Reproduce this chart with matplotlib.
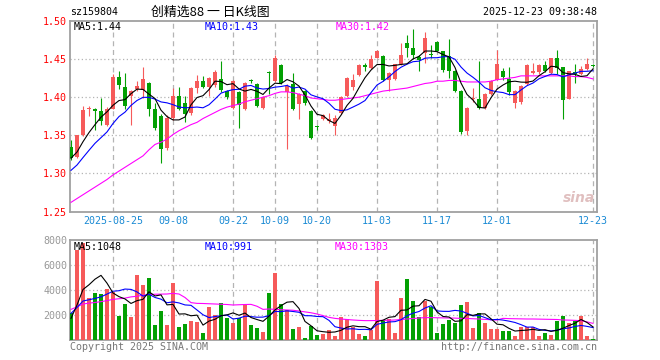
import numpy as np
import pandas as pd
import matplotlib
matplotlib.use("Agg")
import matplotlib.pyplot as plt

# ---------------- data ----------------
opens = [1.335, 1.321, 1.350, 1.384, 1.385, 1.382, 1.363, 1.385, 1.426, 1.414,
         1.401, 1.411, 1.410, 1.419, 1.385, 1.375, 1.333, 1.373, 1.402, 1.392,
         1.379, 1.412, 1.421, 1.414, 1.416, 1.424, 1.408, 1.386, 1.407, 1.384,
         1.422, 1.417, 1.386, 1.433, 1.421, 1.442, 1.407, 1.417, 1.391, 1.408,
         1.382, 1.362, 1.372, 1.369, 1.362, 1.379, 1.401, 1.414, 1.429, 1.442,
         1.438, 1.452, 1.454, 1.423, 1.424, 1.443, 1.471, 1.465, 1.453, 1.458,
         1.457, 1.473, 1.460, 1.454, 1.434, 1.408, 1.356, 1.397, 1.397, 1.386,
         1.404, 1.423, 1.434, 1.424, 1.392, 1.394, 1.417, 1.432, 1.433, 1.442,
         1.432, 1.451, 1.439, 1.398, 1.433, 1.430, 1.437, 1.442]
closes = [1.320, 1.350, 1.383, 1.385, 1.382, 1.369, 1.385, 1.426, 1.416, 1.388,
          1.408, 1.415, 1.424, 1.385, 1.359, 1.332, 1.373, 1.402, 1.385, 1.378,
          1.412, 1.421, 1.414, 1.425, 1.433, 1.410, 1.400, 1.421, 1.390, 1.419,
          1.421, 1.388, 1.400, 1.432, 1.451, 1.418, 1.415, 1.385, 1.404, 1.392,
          1.346, 1.361, 1.376, 1.372, 1.373, 1.400, 1.425, 1.422, 1.442, 1.439,
          1.450, 1.461, 1.423, 1.432, 1.443, 1.456, 1.465, 1.455, 1.449, 1.478,
          1.456, 1.461, 1.436, 1.434, 1.408, 1.354, 1.386, 1.399, 1.386, 1.404,
          1.421, 1.443, 1.426, 1.407, 1.408, 1.415, 1.442, 1.434, 1.442, 1.434,
          1.451, 1.438, 1.396, 1.434, 1.431, 1.437, 1.443, 1.441]
highs = [1.344, 1.351, 1.388, 1.388, 1.386, 1.399, 1.387, 1.431, 1.434, 1.432,
         1.410, 1.421, 1.440, 1.420, 1.392, 1.378, 1.377, 1.412, 1.414, 1.401,
         1.413, 1.429, 1.428, 1.427, 1.436, 1.447, 1.410, 1.422, 1.408, 1.420,
         1.424, 1.418, 1.401, 1.434, 1.455, 1.443, 1.417, 1.432, 1.405, 1.409,
         1.383, 1.364, 1.378, 1.379, 1.376, 1.402, 1.427, 1.430, 1.444, 1.445,
         1.455, 1.462, 1.456, 1.433, 1.444, 1.471, 1.482, 1.490, 1.456, 1.485,
         1.468, 1.474, 1.461, 1.477, 1.436, 1.409, 1.387, 1.412, 1.448, 1.405,
         1.422, 1.462, 1.438, 1.440, 1.409, 1.416, 1.443, 1.445, 1.443, 1.448,
         1.452, 1.462, 1.440, 1.435, 1.443, 1.441, 1.452, 1.444]
lows = [1.318, 1.320, 1.349, 1.375, 1.357, 1.363, 1.362, 1.384, 1.411, 1.384,
        1.363, 1.408, 1.399, 1.375, 1.357, 1.314, 1.331, 1.370, 1.383, 1.368,
        1.377, 1.406, 1.412, 1.401, 1.414, 1.407, 1.397, 1.385, 1.360, 1.383,
        1.419, 1.387, 1.384, 1.404, 1.420, 1.417, 1.332, 1.383, 1.372, 1.390,
        1.345, 1.357, 1.370, 1.366, 1.350, 1.378, 1.400, 1.410, 1.428, 1.434,
        1.437, 1.451, 1.421, 1.408, 1.423, 1.442, 1.453, 1.450, 1.434, 1.445,
        1.452, 1.460, 1.433, 1.425, 1.407, 1.352, 1.350, 1.394, 1.385, 1.385,
        1.403, 1.422, 1.423, 1.403, 1.386, 1.391, 1.416, 1.430, 1.431, 1.433,
        1.431, 1.430, 1.372, 1.397, 1.419, 1.429, 1.436, 1.439]
volumes = [2150, 7200, 7800, 3390, 3790, 3680, 4080, 3870, 1920, 2880,
           1870, 5200, 4400, 4930, 1200, 2320, 1200, 4590, 1070, 1280,
           1550, 1470, 590, 2670, 2000, 2990, 1790, 1390, 1730, 2880,
           1200, 990, 670, 3790, 5390, 2880, 2400, 880, 1070, 190,
           1150, 400, 510, 830, 320, 1810, 1650, 1070, 480, 320,
           800, 4720, 1600, 1650, 590, 3330, 4850, 3120, 1810, 3120,
           2610, 590, 1280, 1600, 1390, 2800, 3070, 990, 2190, 1390,
           850, 910, 750, 750, 320, 1070, 1070, 1070, 320, 590,
           400, 1500, 1900, 1400, 1500, 1900, 320, 110]
# closes / volumes before the visible window (estimated from the MA lines' start)
prior_closes = [1.280, 1.285, 1.290, 1.290, 1.295, 1.310, 1.315, 1.325, 1.330]
prior_volumes = [2500, 2600, 2400, 2700, 2450, 1850, 1600, 1500, 1550]
# MA30 lines (need history not shown)
ma30_price = [1.262, 1.267, 1.272, 1.277, 1.282, 1.287, 1.292, 1.298, 1.303, 1.308,
              1.313, 1.318, 1.323, 1.331, 1.338, 1.341, 1.345, 1.351, 1.356, 1.360,
              1.364, 1.367, 1.372, 1.376, 1.380, 1.384, 1.387, 1.389, 1.391, 1.394,
              1.396, 1.398, 1.400, 1.402, 1.405, 1.407, 1.407, 1.406, 1.404, 1.402,
              1.399, 1.398, 1.397, 1.396, 1.396, 1.397, 1.398, 1.399, 1.400, 1.402,
              1.404, 1.406, 1.408, 1.409, 1.410, 1.411, 1.412, 1.414, 1.416, 1.418,
              1.419, 1.421, 1.421, 1.422, 1.422, 1.421, 1.420, 1.420, 1.420, 1.420,
              1.421, 1.423, 1.424, 1.425, 1.426, 1.428, 1.428, 1.428, 1.428, 1.428,
              1.428, 1.428, 1.428, 1.428, 1.427, 1.427, 1.426, 1.424]
ma30_volume = [2450, 2650, 2880, 2950, 3000, 3070, 3150, 3250, 3300, 3350,
               3450, 3500, 3580, 3640, 3660, 3670, 3680, 3730, 3680, 3400,
               2990, 2930, 2920, 2900, 2880, 2860, 2840, 2800, 2820, 2840,
               2850, 2700, 2450, 2480, 2450, 2420, 2400, 2380, 2320, 2250,
               2180, 2080, 1950, 1810, 1730, 1680, 1640, 1600, 1570, 1550,
               1550, 1560, 1570, 1580, 1600, 1640, 1680, 1720, 1760, 1790,
               1790, 1780, 1770, 1760, 1750, 1730, 1720, 1700, 1680, 1650,
               1620, 1600, 1730, 1710, 1700, 1690, 1680, 1680, 1670, 1660,
               1650, 1640, 1600, 1590, 1570, 1550, 1450, 1330]
holidays = pd.date_range("2025-10-01", "2025-10-08")
dates = [d for d in pd.bdate_range("2025-08-14", "2025-12-23") if d not in holidays]
tick_dates = ["2025-08-25", "2025-09-08", "2025-09-22", "2025-10-09", "2025-10-20",
              "2025-11-03", "2025-11-17", "2025-12-01", "2025-12-23"]
tick_labels = ["2025-08-25", "09-08", "09-22", "10-09", "10-20",
               "11-03", "11-17", "12-01", "12-23"]
price_ticks = [1.25, 1.30, 1.35, 1.40, 1.45, 1.50]
vol_ticks = [2000, 4000, 6000, 8000]

# ---------------- styling ----------------
RED = "#f65a5a"
GREEN = "#03a003"
FRAME = "#a0a0a0"
GRID = "#b4b4b4"
TXT_BLUE = "#1a8ad4"
MONO = "DejaVu Sans Mono"
FS = 7.2

o = np.array(opens); c = np.array(closes); h = np.array(highs); l = np.array(lows)
v = np.array(volumes, dtype=float)
x = np.arange(len(c))
date_idx = {d.strftime("%Y-%m-%d"): i for i, d in enumerate(dates)}
tick_idx = [date_idx[d] for d in tick_dates]

def ma(series, prior, n):
    s = pd.Series(list(prior) + list(series))
    return s.rolling(n).mean().values[len(prior):]

ma5 = ma(c, prior_closes, 5)
ma10 = ma(c, prior_closes, 10)
vma5 = ma(v, prior_volumes, 5)
vma10 = ma(v, prior_volumes, 10)

up = c >= o
colors = np.where(up, RED, GREEN)

W, H = 660, 360
fig = plt.figure(figsize=(W / 100, H / 100), dpi=100)
fig.patch.set_facecolor("white")

def fx(px):
    return px / W

def fy(py):
    return 1 - py / H

L, R = 70, 597
ax = fig.add_axes([fx(L), fy(211.5), fx(R - L), (211.5 - 21) / H])
axv = fig.add_axes([fx(L), fy(340), fx(R - L), (340 - 240) / H])

xlim = (-1 / 6, (R - 71) / 6)
for a in (ax, axv):
    a.set_xlim(*xlim)
    for sp in a.spines.values():
        sp.set_color(FRAME)
        sp.set_linewidth(1.3)
    a.tick_params(length=0)
    for t in tick_idx:
        a.axvline(t, color=GRID, lw=0.9, ls=(0, (4, 3)), zorder=0.5)

# price panel
ax.set_ylim(1.25, 1.50)
for yv in price_ticks[1:-1]:
    ax.axhline(yv, color=GRID, lw=0.9, ls=(0, (1, 2)), zorder=0.5)
ax.vlines(x, l, h, colors=colors, lw=0.8, zorder=2)
body = np.maximum(np.abs(c - o), 0.0012)
ax.bar(x, body, bottom=np.minimum(o, c), width=0.78, color=colors, linewidth=0, zorder=3)
ax.plot(x, ma30_price, color="#ff00ff", lw=0.8, zorder=4)
ax.plot(x, ma10, color="#0000ff", lw=0.8, zorder=4)
ax.plot(x, ma5, color="black", lw=0.8, zorder=4)
ax.set_yticks(price_ticks)
ax.set_yticklabels([f"{t:.2f}" for t in price_ticks], color="red", fontsize=FS, family=MONO)
ax.tick_params(axis="y", pad=2)
ax.set_xticks(tick_idx)
ax.set_xticklabels(tick_labels, color=TXT_BLUE, fontsize=FS, family=MONO)
ax.tick_params(axis="x", pad=3)

# volume panel
axv.set_ylim(0, 8000)
for yv in vol_ticks[:-1]:
    axv.axhline(yv, color=GRID, lw=0.9, ls=(0, (1, 2)), zorder=0.5)
axv.bar(x, v, width=0.82, color=colors, linewidth=0, zorder=3)
axv.plot(x, ma30_volume, color="#ff00ff", lw=0.8, zorder=4)
axv.plot(x, vma10, color="#0000ff", lw=0.8, zorder=4)
axv.plot(x, vma5, color="black", lw=0.8, zorder=4)
axv.set_yticks(vol_ticks)
axv.set_yticklabels([str(t) for t in vol_ticks], color="#999999", fontsize=FS, family=MONO)
axv.tick_params(axis="y", pad=2)
axv.set_xticks([])

# header / legends
fig.text(fx(70), fy(12), "sz159804", fontsize=FS, family=MONO, va="center", ha="left")
fig.text(fx(151), fy(12), "创精选88 一 日K线图", fontsize=9.3,
         family=["Noto Sans CJK SC", "DejaVu Sans"], va="center", ha="left")
fig.text(fx(597), fy(12), "2025-12-23 09:38:48", fontsize=FS, family=MONO, va="center", ha="right")

fig.text(fx(74), fy(27.5), "MA5:1.44", fontsize=FS, family=MONO, va="center", color="black")
fig.text(fx(205), fy(27.5), "MA10:1.43", fontsize=FS, family=MONO, va="center", color="#0000ff")
fig.text(fx(336), fy(27.5), "MA30:1.42", fontsize=FS, family=MONO, va="center", color="#ff00ff")
fig.text(fx(74), fy(247), "MA5:1048", fontsize=FS, family=MONO, va="center", color="black")
fig.text(fx(205), fy(247), "MA10:991", fontsize=FS, family=MONO, va="center", color="#0000ff")
fig.text(fx(335), fy(247), "MA30:1303", fontsize=FS, family=MONO, va="center", color="#ff00ff")

fig.text(fx(70), fy(347), "Copyright 2025 SINA.COM", fontsize=FS, family=MONO,
         va="center", ha="left", color="#777777")
fig.text(fx(597), fy(347), "http://finance.sina.com.cn", fontsize=FS, family=MONO,
         va="center", ha="right", color="#777777")
fig.text(fx(579), fy(198), "sina", fontsize=10, style="italic", weight="bold",
         va="center", ha="center", color="#d9b0b0", alpha=0.8)

fig.savefig("out.png", dpi=100)
